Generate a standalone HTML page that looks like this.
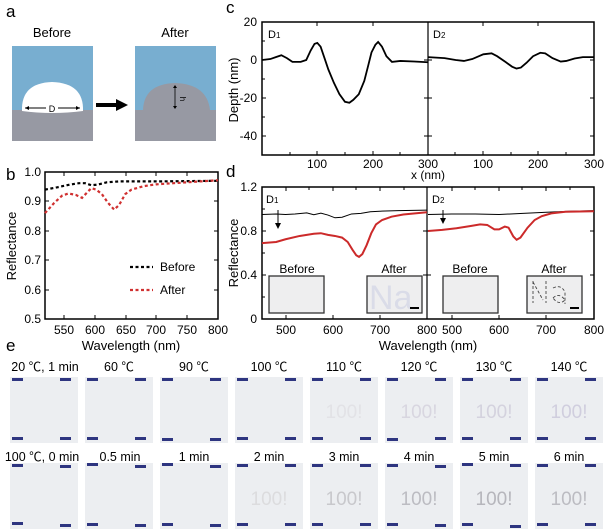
<!DOCTYPE html>
<html><head><meta charset="utf-8"><style>
body{margin:0;background:#fff;}
svg{display:block;font-family:"Liberation Sans","Noto Sans CJK SC",sans-serif;}
.ax{fill:none;stroke:#000;stroke-width:1.5}
.t{font-size:12px}
</style></head><body>
<svg width="608" height="529" viewBox="0 0 608 529" xmlns="http://www.w3.org/2000/svg">
<!-- panel a -->
<text x="6" y="17" font-size="17">a</text>
<text x="52" y="37" font-size="13" text-anchor="middle">Before</text>
<text x="175" y="37" font-size="13" text-anchor="middle">After</text>
<rect x="12" y="46" width="81" height="95" fill="#9799a3"/>
<rect x="12" y="46" width="81" height="64" fill="#78aed0"/>
<path d="M22,111 Q21,83 52,82 Q84,83 83,111 Q52,115 22,111Z" fill="#fff"/>
<line x1="25" y1="108" x2="46" y2="108" stroke="#000"/><line x1="58" y1="108" x2="80" y2="108" stroke="#000"/>
<path d="M25,108 l4,-2 v4z M80,108 l-4,-2 v4z"/>
<text x="52" y="112" font-size="9" text-anchor="middle">D</text>
<rect x="96" y="103" width="22" height="4"/><path d="M116,99 L128,105 L116,111Z"/>
<rect x="135" y="46" width="81" height="95" fill="#9799a3"/>
<rect x="135" y="46" width="81" height="64" fill="#78aed0"/>
<path d="M143,110 Q144,84 175,83 Q207,84 210,110Z" fill="#9799a3"/>
<line x1="175" y1="86" x2="175" y2="108" stroke="#000" stroke-width="0.8"/>
<path d="M175,85 l-2,3 h4z M175,109 l-2,-3 h4z"/>
<text x="180" y="99" font-size="8" transform="rotate(90 180 99)" text-anchor="middle">h</text>

<!-- panel c -->
<text x="226" y="13" font-size="17">c</text>
<rect class="ax" x="262" y="22" width="332" height="133"/>
<line x1="428" y1="22" x2="428" y2="155" stroke="#000" stroke-width="1.2"/>
<g stroke="#000" stroke-width="1">
<path d="M262,60h4M262,98h4M262,136h4M262,41h3M262,79h3M262,117h3M590,60h4M590,98h4M590,136h4M424,60h4M424,98h4M424,136h4M428,60h4M428,98h4M428,136h4"/>
<path d="M317,155v-4M373,155v-4M483,155v-4M538,155v-4M317,22v4M373,22v4M483,22v4M538,22v4M290,155v-3M345,155v-3M400,155v-3M455,155v-3M511,155v-3M566,155v-3"/>
</g>
<g class="t" text-anchor="end"><text x="257" y="26">20</text><text x="257" y="64">0</text><text x="257" y="102">-20</text><text x="257" y="140">-40</text></g>
<g class="t" text-anchor="middle"><text x="317" y="168">100</text><text x="373" y="168">200</text><text x="428" y="168">300</text><text x="483" y="168">100</text><text x="538" y="168">200</text><text x="594" y="168">300</text></g>
<text x="428" y="179" font-size="12" text-anchor="middle">x (nm)</text>
<text x="238" y="90" font-size="13" text-anchor="middle" transform="rotate(-90 238 90)">Depth (nm)</text>
<text x="268" y="38" font-size="11">D<tspan font-size="8">1</tspan></text>
<text x="433" y="38" font-size="11">D<tspan font-size="8">2</tspan></text>
<g transform="translate(262,60) scale(0.553,-1.9)" fill="none" stroke="#000" stroke-width="1.8">
<polyline vector-effect="non-scaling-stroke" points="0,0 15,0.5 25,1.5 35,2.5 45,1 55,-1 70,-1 80,0 88,5 95,8.5 100,9 106,7 113,1 120,-5 130,-12 140,-18 150,-22 158,-22.5 165,-21 175,-18 185,-11 192,-3 198,4 205,8 210,9.5 217,7 225,2 235,-1 250,-0.5 275,-0.8 300,-1.2"/>
</g>
<g transform="translate(428,60) scale(0.553,-1.9)" fill="none" stroke="#000" stroke-width="1.8">
<polyline vector-effect="non-scaling-stroke" points="0,1.5 30,1 50,0 65,-0.5 80,0.5 92,2 100,3 115,3.5 125,2 140,-1 152,-3.5 160,-4.5 168,-4 178,-1.5 190,2 203,3.8 212,3.5 225,1 240,-0.8 250,-0.5 265,0.8 280,1.5 300,1.5"/>
</g>

<!-- panel b -->
<text x="6" y="180" font-size="17">b</text>
<rect class="ax" x="45" y="172" width="173" height="147"/>
<g stroke="#000" stroke-width="1">
<path d="M45,201h4M45,231h4M45,260h4M45,290h4M214,201h4M214,231h4M214,260h4M214,290h4"/>
<path d="M64,319v-4M95,319v-4M126,319v-4M156,319v-4M187,319v-4M64,172v4M95,172v4M126,172v4M156,172v4M187,172v4"/>
</g>
<g class="t" text-anchor="end"><text x="41" y="176">1.0</text><text x="41" y="205">0.9</text><text x="41" y="235">0.8</text><text x="41" y="264">0.7</text><text x="41" y="294">0.6</text><text x="41" y="323">0.5</text></g>
<g class="t" text-anchor="middle"><text x="64" y="334">550</text><text x="95" y="334">600</text><text x="126" y="334">650</text><text x="156" y="334">700</text><text x="187" y="334">750</text><text x="218" y="334">800</text></g>
<text x="131" y="350" font-size="13" text-anchor="middle">Wavelength (nm)</text>
<text x="16" y="246" font-size="13" text-anchor="middle" transform="rotate(-90 16 246)">Reflectance</text>
<g transform="translate(-276.4,466) scale(0.618,-294)" fill="none" stroke-width="2.2" stroke-dasharray="3,2.5">
<polyline vector-effect="non-scaling-stroke" stroke="#000" points="520,0.94 540,0.948 560,0.957 575,0.962 585,0.962 595,0.955 605,0.957 620,0.965 640,0.968 700,0.968 800,0.97"/>
<polyline vector-effect="non-scaling-stroke" stroke="#d03030" points="520,0.86 535,0.895 548,0.92 558,0.927 570,0.922 580,0.912 588,0.93 595,0.945 603,0.94 612,0.925 622,0.895 632,0.872 640,0.888 650,0.925 660,0.94 680,0.952 700,0.958 750,0.965 800,0.972"/>
</g>
<path d="M130,267h23" stroke="#000" stroke-width="2.2" stroke-dasharray="3,2.5"/>
<path d="M130,290h23" stroke="#d03030" stroke-width="2.2" stroke-dasharray="3,2.5"/>
<text x="160" y="271" font-size="12">Before</text>
<text x="160" y="294" font-size="12">After</text>

<!-- panel d -->
<text x="226" y="177" font-size="17">d</text>
<rect class="ax" x="262" y="187" width="332" height="132"/>
<line x1="427" y1="187" x2="427" y2="319" stroke="#000" stroke-width="1.2"/>
<g stroke="#000" stroke-width="1">
<path d="M262,231h4M262,275h4M590,231h4M590,275h4M423,231h4M423,275h4M427,231h4M427,275h4M262,209h3M262,253h3M262,297h3"/>
<path d="M286,319v-4M333,319v-4M380,319v-4M452,319v-4M499,319v-4M546,319v-4M286,187v4M333,187v4M380,187v4M452,187v4M499,187v4M546,187v4M309,187v3M356,187v3M404,187v3M475,187v3M522,187v3M570,187v3"/>
</g>
<g class="t" text-anchor="end"><text x="257" y="191">1.2</text><text x="257" y="235">0.8</text><text x="257" y="279">0.4</text><text x="257" y="323">0</text></g>
<g class="t" text-anchor="middle"><text x="286" y="334">500</text><text x="333" y="334">600</text><text x="380" y="334">700</text><text x="427" y="334">800</text><text x="452" y="334">500</text><text x="499" y="334">600</text><text x="546" y="334">700</text><text x="594" y="334">800</text></g>
<text x="428" y="350" font-size="13" text-anchor="middle">Wavelength (nm)</text>
<text x="238" y="253" font-size="13" text-anchor="middle" transform="rotate(-90 238 253)">Reflectance</text>
<text x="266" y="203" font-size="11">D<tspan font-size="8">1</tspan></text>
<text x="432" y="203" font-size="11">D<tspan font-size="8">2</tspan></text>
<g transform="translate(50.05,319) scale(0.471,-110)" fill="none">
<polyline vector-effect="non-scaling-stroke" stroke="#000" stroke-width="1" points="450,0.95 480,0.955 500,0.95 520,0.955 545,0.965 560,0.948 575,0.962 590,0.945 605,0.92 620,0.925 640,0.955 660,0.96 680,0.975 700,0.98 740,0.985 800,0.99"/>
<polyline vector-effect="non-scaling-stroke" stroke="#cc2a2a" stroke-width="2" points="450,0.69 480,0.7 500,0.725 530,0.755 560,0.775 575,0.78 590,0.765 605,0.755 620,0.74 632,0.7 642,0.63 650,0.58 656,0.565 663,0.59 672,0.67 682,0.78 692,0.86 705,0.9 725,0.93 750,0.95 800,0.97"/>
</g>
<g transform="translate(214.7,319) scale(0.474,-110)" fill="none">
<polyline vector-effect="non-scaling-stroke" stroke="#000" stroke-width="1" points="450,0.95 500,0.955 550,0.955 600,0.95 650,0.96 700,0.97 750,0.98 800,0.985"/>
<polyline vector-effect="non-scaling-stroke" stroke="#cc2a2a" stroke-width="2" points="450,0.80 480,0.81 510,0.825 540,0.845 560,0.86 575,0.855 590,0.815 600,0.815 612,0.84 620,0.83 630,0.75 637,0.72 645,0.74 660,0.83 675,0.9 690,0.935 710,0.96 740,0.975 800,0.98"/>
</g>
<path d="M278,210v16" stroke="#000"/><path d="M278,229l-3,-6h6z"/>
<path d="M443,210v11" stroke="#000"/><path d="M443,224l-3,-6h6z"/>
<g font-size="12" text-anchor="middle"><text x="297" y="273">Before</text><text x="394" y="273">After</text><text x="470" y="273">Before</text><text x="554" y="273">After</text></g>
<g stroke="#333" stroke-width="1.3" fill="#eeeeef">
<rect x="269" y="276" width="55" height="37"/><rect x="367" y="276" width="55" height="37"/>
<rect x="443" y="276" width="55" height="37"/><rect x="527" y="276" width="55" height="37"/></g>
<text x="369" y="309" font-size="34" fill="#dadce8">Na</text>
<path d="M410,308h9M570,308h9" stroke="#000" stroke-width="2"/>
<g stroke="#444" stroke-width="0.9" stroke-dasharray="3,2" fill="none"><path d="M533,281v22M533,282l10,18M546,281v22M553,288q8,-4 12,4v12M553,298q6,-6 12,2q-6,6 -12,-2"/></g>

<!-- panel e -->
<text x="6" y="351" font-size="17">e</text>
<g font-size="12.5" text-anchor="middle">
<text x="45" y="371">20 ℃, 1 min</text><text x="119" y="371">60 ℃</text><text x="194" y="371">90 ℃</text><text x="269" y="371">100 ℃</text><text x="344" y="371">110 ℃</text><text x="419" y="371">120 ℃</text><text x="494" y="371">130 ℃</text><text x="569" y="371">140 ℃</text>
<text x="42" y="461">100 ℃, 0 min</text><text x="120" y="461">0.5 min</text><text x="194" y="461">1 min</text><text x="269" y="461">2 min</text><text x="344" y="461">3 min</text><text x="419" y="461">4 min</text><text x="494" y="461">5 min</text><text x="569" y="461">6 min</text>
</g>
<g fill="#eceef1">
<rect x="10" y="377" width="68" height="66"/><rect x="85" y="377" width="68" height="66"/><rect x="160" y="377" width="68" height="66"/><rect x="235" y="377" width="68" height="66"/><rect x="310" y="377" width="68" height="66"/><rect x="385" y="377" width="68" height="66"/><rect x="460" y="377" width="68" height="66"/><rect x="535" y="377" width="68" height="66"/>
<rect x="10" y="463" width="68" height="66"/><rect x="85" y="463" width="68" height="66"/><rect x="160" y="463" width="68" height="66"/><rect x="235" y="463" width="68" height="66"/><rect x="310" y="463" width="68" height="66"/><rect x="385" y="463" width="68" height="66"/><rect x="460" y="463" width="68" height="66"/><rect x="535" y="463" width="68" height="66"/>
</g>
<g font-size="19" text-anchor="middle">
<text x="344" y="418" fill="#e2e2e6">100!</text><text x="419" y="418" fill="#d8d6e0">100!</text><text x="494" y="418" fill="#d4d2de">100!</text><text x="569" y="418" fill="#d0cede">100!</text>
<text x="269" y="505" fill="#dcdcde">100!</text><text x="344" y="505" fill="#c8c8cc">100!</text><text x="419" y="505" fill="#bcbcc2">100!</text><text x="494" y="505" fill="#b6b6bc">100!</text><text x="569" y="505" fill="#bcbcc2">100!</text>
</g>
<g fill="#2e3580">
<rect x="12" y="378" width="11" height="3"/><rect x="60" y="378" width="11" height="3"/><rect x="87" y="378" width="11" height="3"/><rect x="135" y="378" width="11" height="3"/><rect x="162" y="378" width="11" height="3"/><rect x="210" y="378" width="11" height="3"/><rect x="237" y="378" width="11" height="3"/><rect x="285" y="378" width="11" height="3"/><rect x="312" y="378" width="11" height="3"/><rect x="360" y="378" width="11" height="3"/><rect x="387" y="378" width="11" height="3"/><rect x="435" y="378" width="11" height="3"/><rect x="462" y="378" width="11" height="3"/><rect x="510" y="378" width="11" height="3"/><rect x="537" y="378" width="11" height="3"/><rect x="585" y="378" width="11" height="3"/>
<rect x="12" y="437" width="11" height="3"/><rect x="60" y="437" width="11" height="3"/><rect x="87" y="437" width="11" height="3"/><rect x="135" y="437" width="11" height="3"/><rect x="162" y="438" width="11" height="3"/><rect x="210" y="438" width="11" height="3"/><rect x="237" y="437" width="11" height="3"/><rect x="285" y="437" width="11" height="3"/><rect x="312" y="437" width="11" height="3"/><rect x="360" y="437" width="11" height="3"/><rect x="387" y="438" width="11" height="3"/><rect x="435" y="437" width="11" height="3"/><rect x="462" y="437" width="11" height="3"/><rect x="510" y="437" width="11" height="3"/><rect x="537" y="437" width="11" height="3"/><rect x="585" y="437" width="11" height="3"/>
<rect x="12" y="464" width="11" height="3"/><rect x="60" y="465" width="11" height="3"/><rect x="87" y="463" width="11" height="3"/><rect x="135" y="465" width="11" height="3"/><rect x="162" y="463" width="11" height="3"/><rect x="210" y="465" width="11" height="3"/><rect x="237" y="464" width="11" height="3"/><rect x="285" y="464" width="11" height="3"/><rect x="312" y="464" width="11" height="3"/><rect x="360" y="464" width="11" height="3"/><rect x="387" y="464" width="11" height="3"/><rect x="435" y="465" width="11" height="3"/><rect x="462" y="463" width="11" height="3"/><rect x="510" y="464" width="11" height="3"/><rect x="537" y="464" width="11" height="3"/><rect x="585" y="464" width="11" height="3"/>
<rect x="12" y="522" width="11" height="3"/><rect x="60" y="524" width="11" height="3"/><rect x="87" y="523" width="11" height="3"/><rect x="135" y="524" width="11" height="3"/><rect x="162" y="523" width="11" height="3"/><rect x="210" y="524" width="11" height="3"/><rect x="237" y="523" width="11" height="3"/><rect x="285" y="523" width="11" height="3"/><rect x="312" y="523" width="11" height="3"/><rect x="360" y="523" width="11" height="3"/><rect x="387" y="523" width="11" height="3"/><rect x="435" y="524" width="11" height="3"/><rect x="462" y="523" width="11" height="3"/><rect x="510" y="525" width="11" height="3"/><rect x="537" y="523" width="11" height="3"/><rect x="585" y="523" width="11" height="3"/>
</g>
</svg>
</body></html>
